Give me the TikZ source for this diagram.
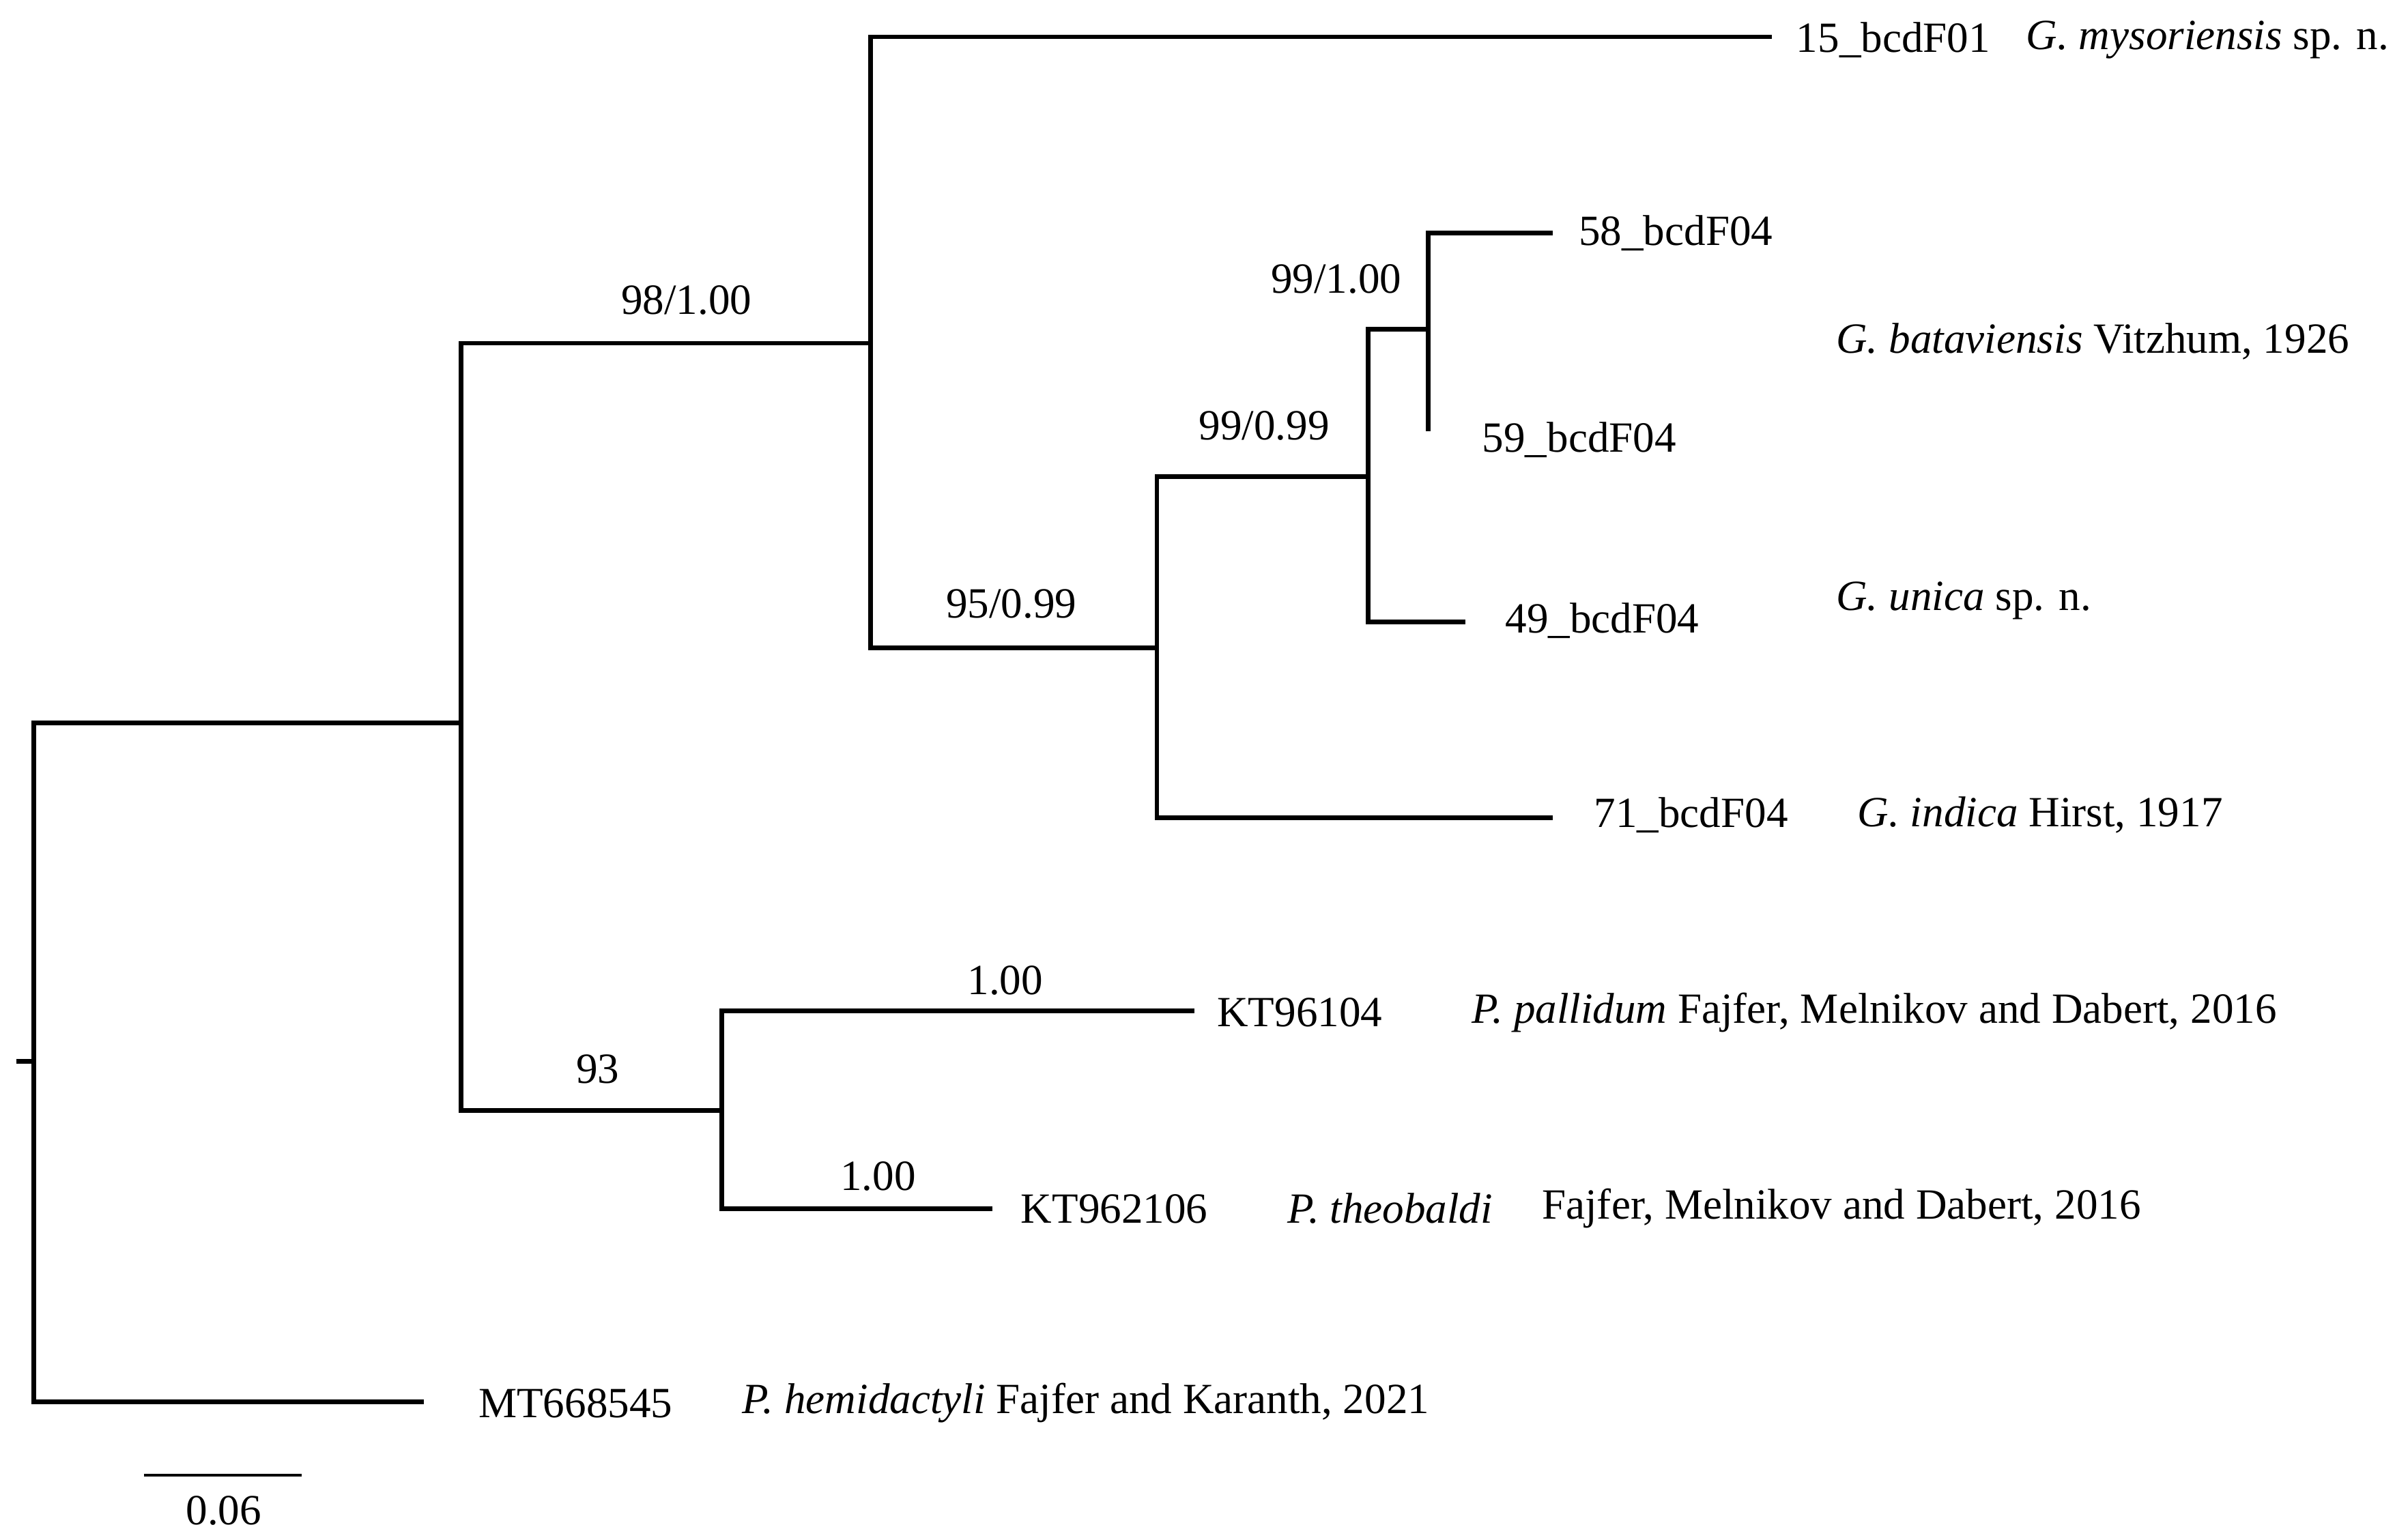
\documentclass[tikz,border=0pt]{standalone}
\usepackage{fontspec}
\setmainfont{Liberation Serif}
\begin{document}
\begin{tikzpicture}[x=0.2mm,y=-0.2mm,
  br/.style={line width=1.7pt,line cap=rect},
  lab/.style={font=\fontsize{16}{18}\selectfont,inner sep=0pt},
  tip/.style={lab,anchor=west}]
\useasboundingbox (0,0) rectangle (1563,1005);
% internal node coordinates
\coordinate (r) at (22,693); \coordinate (r0) at (12,693);
\coordinate (rt) at (22,472); \coordinate (rb) at (22,915);
\coordinate (at) at (301,224); \coordinate (ab) at (301,725); \coordinate (am) at (301,472);
\coordinate (bt) at (568,24); \coordinate (bb) at (568,423);
\coordinate (ct) at (755,311); \coordinate (cb) at (755,534);
\coordinate (dt) at (893,215); \coordinate (db) at (893,406);
\coordinate (et) at (932,152); \coordinate (eb) at (932,280);
\coordinate (ft) at (471,660); \coordinate (fb) at (471,789);
% tips
\coordinate (t15) at (1155,24); \coordinate (t58) at (1012,152);
\coordinate (t49) at (955,406); \coordinate (t71) at (1012,534);
\coordinate (tk1) at (778,660); \coordinate (tk2) at (646,789);
\coordinate (tmt) at (275,915);
\coordinate (s1) at (94,963); \coordinate (s2) at (197,963);
% branches
\draw[br] (r0) -- (r);
\draw[br] (rt) -- (rb);
\draw[br] (rt) -- (am); \draw[br] (at) -- (ab);
\draw[br] (rb) -- (tmt);
\draw[br] (at) -- (568,224); \draw[br] (bt) -- (bb);
\draw[br] (bt) -- (t15);
\draw[br] (bb) -- (755,423); \draw[br] (ct) -- (cb);
\draw[br] (cb) -- (t71);
\draw[br] (ct) -- (893,311); \draw[br] (dt) -- (db);
\draw[br] (db) -- (t49);
\draw[br] (dt) -- (932,215); \draw[br] (et) -- (eb);
\draw[br] (et) -- (t58);
\draw[br] (ab) -- (471,725); \draw[br] (ft) -- (fb);
\draw[br] (ft) -- (tk1); \draw[br] (fb) -- (tk2);
\draw[line width=1.2pt] (s1) -- (s2);
% support labels
\node[lab] (l1) at (448,196) {98/1.00};
\node[lab] (l2) at (660,394) {95/0.99};
\node[lab] (l3) at (825,278) {99/0.99};
\node[lab] (l4) at (872,182) {99/1.00};
\node[lab] (l5) at (390,698) {93};
\node[lab] (l6) at (656,640) {1.00};
\node[lab] (l7) at (573,768) {1.00};
\node[lab] (sc) at (146,986) {0.06};
% tip labels
\node[tip] (n15) at (1172,26) {15\_bcdF01};
\node[tip] (s15) at (1322,26) {\textit{G. mysoriensis} sp. n.};
\node[tip] (n58) at (1030,152) {58\_bcdF04};
\node[tip] (sbat) at (1198,223) {\textit{G. bataviensis} Vitzhum, 1926};
\node[tip] (n59) at (967,287) {59\_bcdF04};
\node[tip] (n49) at (982,405) {49\_bcdF04};
\node[tip] (suni) at (1198,392) {\textit{G. unica} sp. n.};
\node[tip] (n71) at (1040,532) {71\_bcdF04};
\node[tip] (sind) at (1212,532) {\textit{G. indica} Hirst, 1917};
\node[tip] (nk1) at (794,661) {KT96104};
\node[tip] (spal) at (960,661) {\textit{P. pallidum} Fajfer, Melnikov and Dabert, 2016};
\node[tip] (nk2) at (666,789) {KT962106};
\node[tip] (sthe) at (840,789) {\textit{P. theobaldi}};
\node[tip] (sthe2) at (1006,789) {Fajfer, Melnikov and Dabert, 2016};
\node[tip] (nmt) at (312,916) {MT668545};
\node[tip] (shem) at (484,916) {\textit{P. hemidactyli} Fajfer and Karanth, 2021};
\end{tikzpicture}
\end{document}
